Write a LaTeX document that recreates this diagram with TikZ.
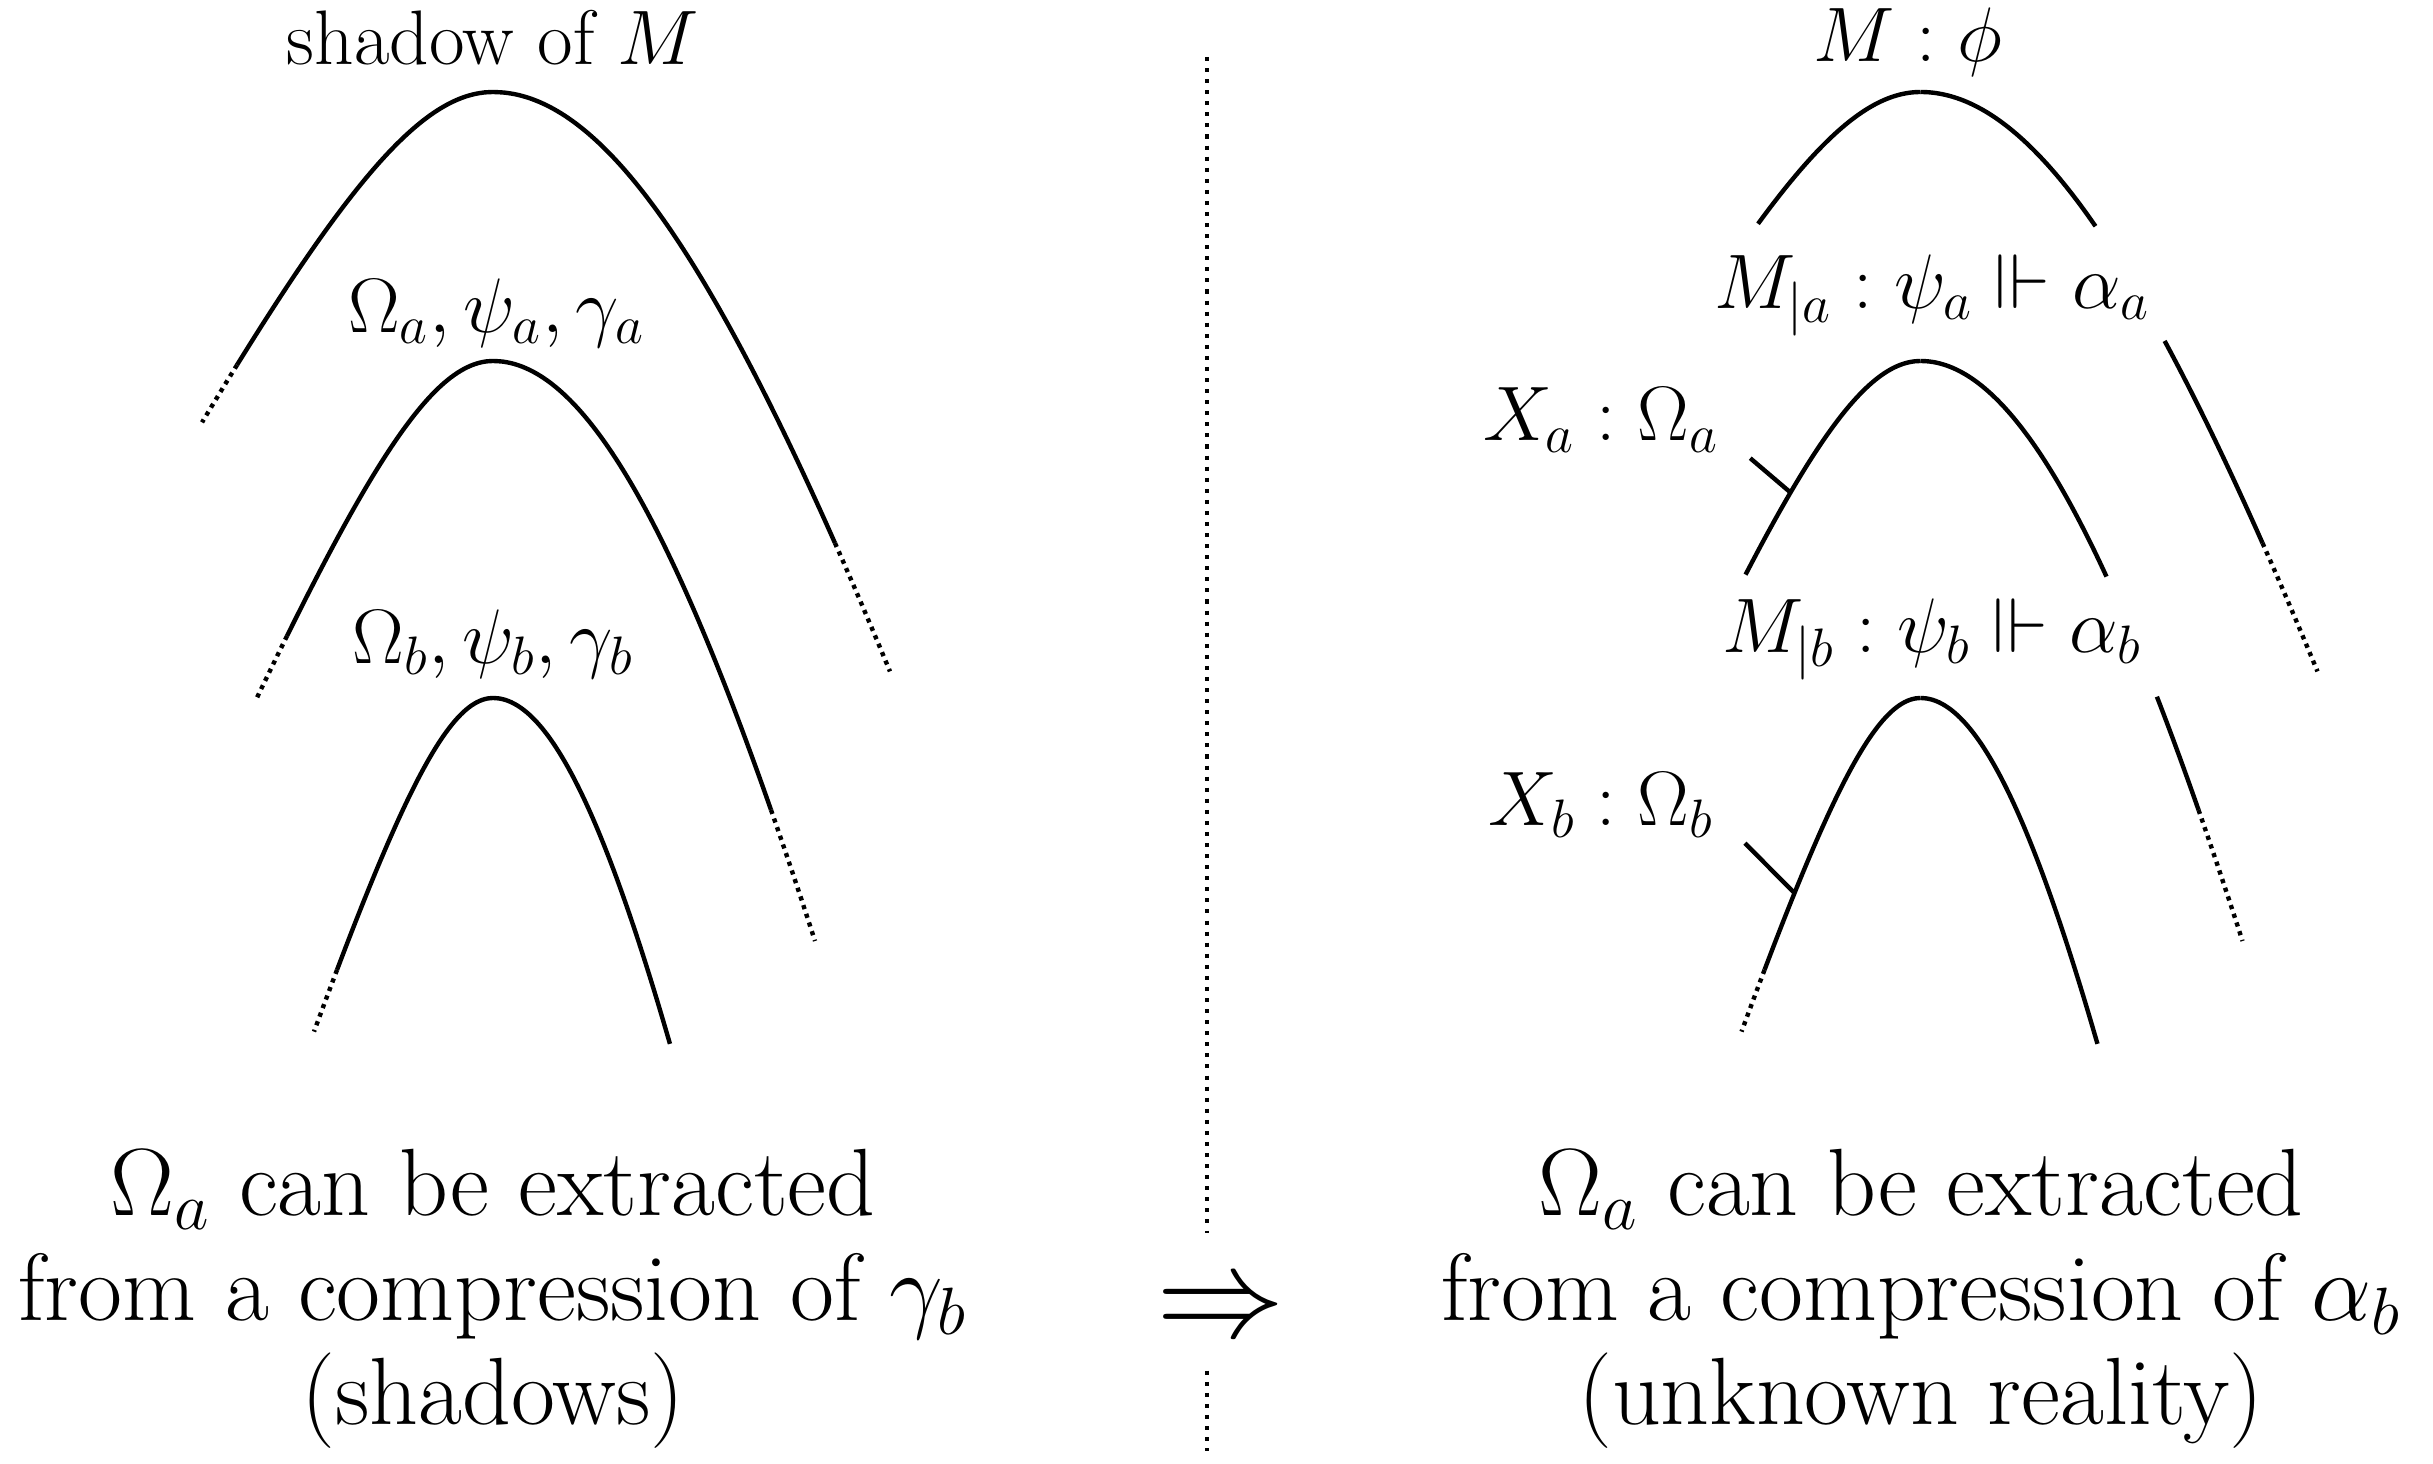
\RequirePackage{fix-cm}
\documentclass[tikz,border=0pt]{standalone}
\usepackage{amsmath}
\usepackage{amssymb}
\usepackage{graphicx}
\usepackage{tikz}

\tikzset{
  curve/.style={line width=1.25pt},
  fade/.style={line width=1.25pt, dash pattern=on 1.2pt off 1.4pt},
  divider/.style={line width=1.15pt, dotted},
  tick/.style={line width=1.25pt},
  lbl/.style={font=\fontsize{22}{26}\selectfont},
  tag/.style={lbl, inner xsep=8.7pt, inner ysep=1.5pt},
  caption/.style={font=\fontsize{27.2}{29.8}\selectfont, align=center},
  declare function={arm(\d,\a,\b)=\a*(sqrt(1+(\d/\b)^2)-1);}
}

% one piece of an arch: style, side, apex x, apex y, A, B, range
\newcommand{\archpiece}[7]{%
  \draw[#1] plot[domain=#7, samples=30, smooth, variable=\t]
    ({#3+#2*\t}, {#4-arm(\t,#5,#6)});}

\begin{document}
\begin{tikzpicture}
                    \useasboundingbox (0,0) rectangle (24.33,14.63);
                    % Shadows
                    \archpiece{curve}{-1}{4.93}{13.71}{2.893}{1.536}{0:2.56}
                    \archpiece{fade}{-1}{4.93}{13.71}{2.893}{1.536}{2.56:2.91}
                    \archpiece{curve}{1}{4.93}{13.71}{10.89}{3.42}{0:3.42}
                    \archpiece{fade}{1}{4.93}{13.71}{10.89}{3.42}{3.42:3.97}
                    \archpiece{curve}{-1}{4.93}{11.02}{2.914}{1.236}{0:2.06}
                    \archpiece{fade}{-1}{4.93}{11.02}{2.914}{1.236}{2.06:2.36}
                    \archpiece{curve}{1}{4.93}{11.02}{14.88}{3.336}{0:2.78}
                    \archpiece{fade}{1}{4.93}{11.02}{14.88}{3.336}{2.78:3.22}
                    \archpiece{curve}{-1}{4.93}{7.65}{2.882}{0.936}{0:1.56}
                    \archpiece{fade}{-1}{4.93}{7.65}{2.882}{0.936}{1.56:1.79}
                    \archpiece{curve}{1}{4.93}{7.65}{11.47}{2.124}{0:1.77}
                    \node[lbl] (shadow) at (4.93,14.25) {shadow of $M$};
                    \node[lbl] (sa) at (4.965,11.50) {$\Omega_a, \psi_a, \gamma_a$};
                    \node[lbl] (sb) at (4.93,8.19) {$\Omega_b, \psi_b, \gamma_b$};
                    \node[caption] (capl) at (4.93,1.64)
                      {$\Omega_a$ can be extracted\\from a compression of $\gamma_b$\\(shadows)};
                    % Divider
                    \node[inner sep=0pt, minimum height=1.36cm] (implies) at (12.21,1.61)
                      {\raisebox{-3pt}[\height][\depth]{\scalebox{1.47}{\Huge$\Rightarrow$}}};
                    \coordinate (divtop) at (12.07,14.06);
                    \coordinate (divbot) at (12.07,0.12);
                    \draw[divider] (divtop) -- (divtop |- implies.north);
                    \draw[divider] (divbot |- implies.south) -- (divbot);
                    % Reality
                    \begin{scope}[xshift=14.275cm]
                      \archpiece{curve}{-1}{4.93}{13.71}{2.893}{1.536}{0:1.625}
                      \archpiece{curve}{1}{4.93}{13.71}{10.89}{3.42}{0:1.75}
                      \archpiece{curve}{1}{4.93}{13.71}{10.89}{3.42}{2.441:3.42}
                      \archpiece{fade}{1}{4.93}{13.71}{10.89}{3.42}{3.42:3.97}
                      \archpiece{curve}{-1}{4.93}{11.02}{2.914}{1.236}{0:1.75}
                      \archpiece{curve}{1}{4.93}{11.02}{14.88}{3.336}{0:1.86}
                      \archpiece{curve}{1}{4.93}{11.02}{14.88}{3.336}{2.364:2.78}
                      \archpiece{fade}{1}{4.93}{11.02}{14.88}{3.336}{2.78:3.22}
                      \archpiece{curve}{-1}{4.93}{7.65}{2.882}{0.936}{0:1.56}
                      \archpiece{fade}{-1}{4.93}{7.65}{2.882}{0.936}{1.56:1.79}
                      \archpiece{curve}{1}{4.93}{7.65}{11.47}{2.124}{0:1.77}
                      \node[lbl] (m) at (4.805,14.21) {$M : \phi$};
                      \node[lbl] (ma) at (5.045,11.68) {$M_{|a} : \psi_a \Vdash \alpha_a$};
                      \node[lbl] (mb) at (5.045,8.24) {$M_{|b} : \psi_b \Vdash \alpha_b$};
                      \node[tag] (xa) at (1.735,10.43) {$X_a : \Omega_a$};
                      \node[tag] (xb) at (1.735,6.58) {$X_b : \Omega_b$};
                      \coordinate (xa-pt) at ({4.93-1.30},{11.02-arm(1.30,2.914,1.236)});
                      \coordinate (xb-pt) at ({4.93-1.26},{7.65-arm(1.26,2.882,0.936)});
                      \draw[tick] (xa.south east) -- (xa-pt);
                      \draw[tick] (xb.south east) -- (xb-pt);
                      \node[caption] (capr) at (4.935,1.64)
                        {$\Omega_a$ can be extracted\\from a compression of $\alpha_b$\\(unknown reality)};
                    \end{scope}
                \end{tikzpicture}
\end{document}
